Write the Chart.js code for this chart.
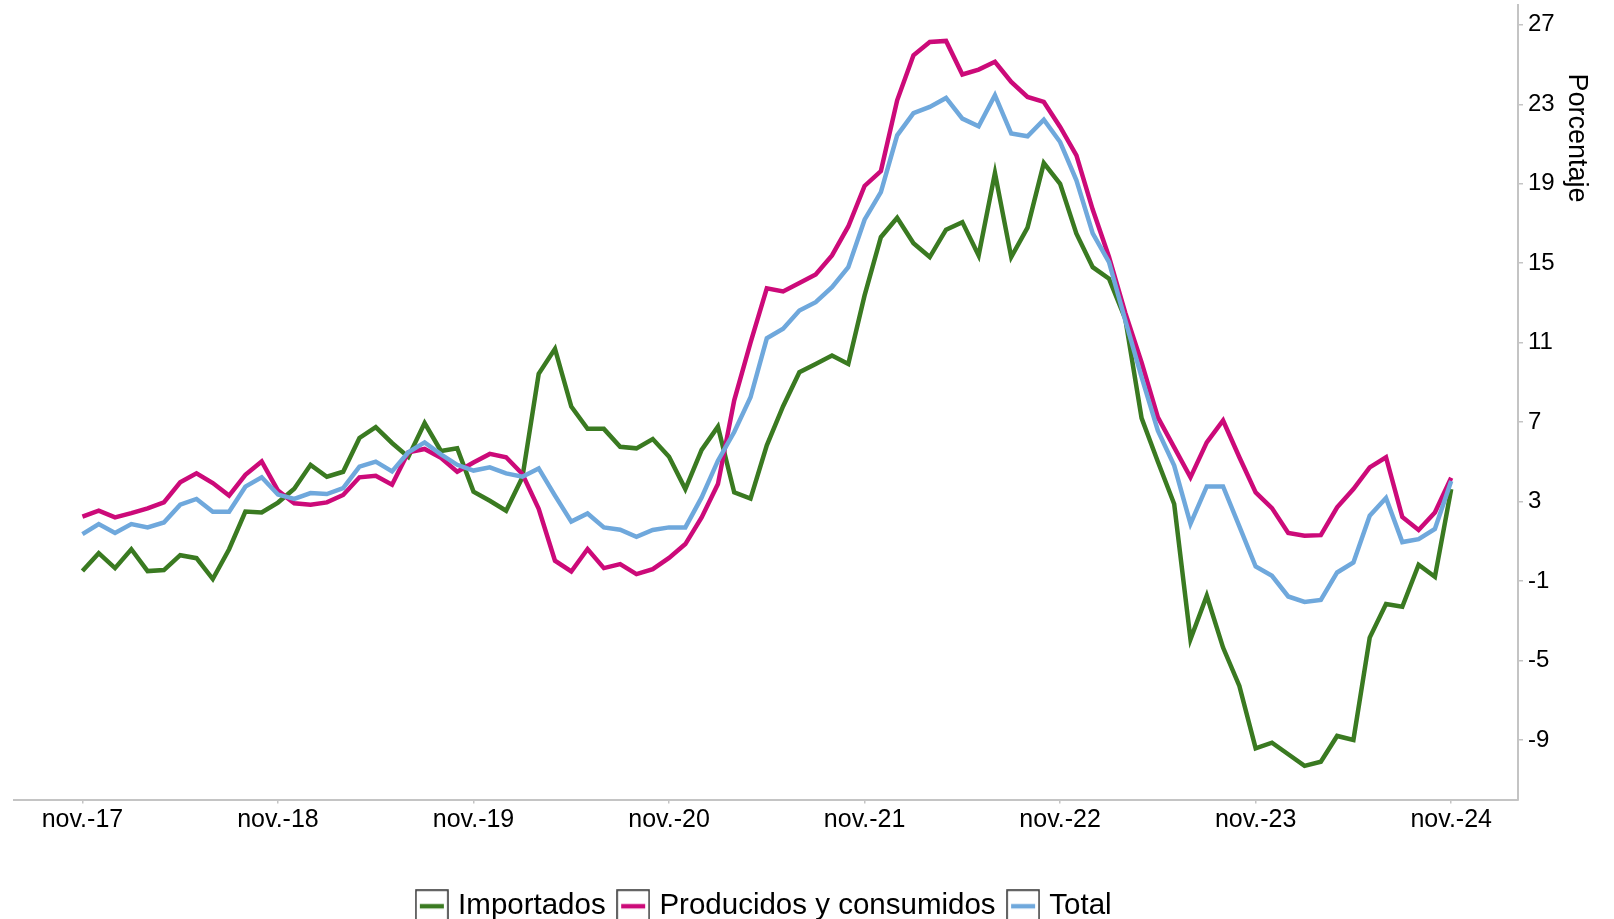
<!DOCTYPE html>
<html>
<head>
<meta charset="utf-8">
<script src="https://cdn.jsdelivr.net/npm/chart.js@4.4.1/dist/chart.umd.min.js"></script>
<style>
  html, body { margin: 0; padding: 0; background: #ffffff; overflow: hidden; }
  #wrap { position: relative; width: 1614px; height: 931px; }
</style>
</head>
<body>
<div id="wrap"><canvas id="c"></canvas></div>
<script>
// ---- data ----
const monthNames = ['nov.', 'dic.', 'ene.', 'feb.', 'mar.', 'abr.', 'may.', 'jun.', 'jul.', 'ago.', 'sep.', 'oct.'];
const categories = Array.from({ length: 85 }, (_, i) => {
  const yy = 17 + Math.floor((i + 10) / 12);
  return monthNames[i % 12] + '-' + yy;
});

const tickLabels = ['nov.-17', 'nov.-18', 'nov.-19', 'nov.-20', 'nov.-21', 'nov.-22', 'nov.-23', 'nov.-24'];
const tickPositions = [0, 12, 24, 36, 48, 60, 72, 84];
const yTickValues = [-9, -5, -1, 3, 7, 11, 15, 19, 23, 27];

const seriesNames = ['Importados', 'Producidos y consumidos', 'Total'];
const yTitle = 'Porcentaje';

const importados = [
  -0.5, 0.4, -0.35, 0.6, -0.5, -0.45, 0.3, 0.15, -0.9, 0.6,
  2.5, 2.45, 2.95, 3.65, 4.85, 4.25, 4.5, 6.2, 6.75, 5.95,
  5.25, 6.95, 5.55, 5.68, 3.5, 3.04, 2.54, 4.22, 9.43, 10.69,
  7.78, 6.66, 6.66, 5.76, 5.68, 6.15, 5.26, 3.63, 5.6, 6.77,
  3.46, 3.15, 5.83, 7.8, 9.51, 9.93, 10.35, 9.93, 13.38, 16.31,
  17.29, 16.01, 15.31, 16.69, 17.07, 15.39, 19.54, 15.31, 16.79, 20.04,
  19.0, 16.49, 14.8, 14.22, 12.2, 7.2, 5.0, 2.88, -3.93, -1.74,
  -4.35, -6.28, -9.42, -9.14, -9.72, -10.31, -10.1, -8.8, -9.0, -3.85,
  -2.16, -2.3, -0.18, -0.79, 3.63
];
const producidos = [
  2.24, 2.54, 2.2, 2.42, 2.66, 2.96, 3.97, 4.42, 3.93, 3.3,
  4.35, 5.02, 3.55, 2.91, 2.84, 2.96, 3.33, 4.22, 4.3, 3.85,
  5.48, 5.65, 5.2, 4.5, 4.97, 5.4, 5.23, 4.39, 2.63, 0.02,
  -0.52, 0.61, -0.35, -0.15, -0.65, -0.4, 0.16, 0.86, 2.2, 3.88,
  8.1, 11.0, 13.74, 13.58, 14.0, 14.43, 15.39, 16.85, 18.89, 19.64,
  23.2, 25.47, 26.14, 26.19, 24.5, 24.75, 25.14, 24.13, 23.37, 23.12,
  21.86, 20.43, 17.7, 15.31, 12.5, 10.0, 7.24, 5.73, 4.22, 5.98,
  7.08, 5.23, 3.46, 2.67, 1.42, 1.28, 1.31, 2.71, 3.63, 4.72,
  5.23, 2.22, 1.57, 2.45, 4.2
];
const total = [
  1.36, 1.87, 1.42, 1.87, 1.7, 1.95, 2.84, 3.13, 2.49, 2.49,
  3.75, 4.22, 3.35, 3.13, 3.43, 3.38, 3.68, 4.76, 5.01, 4.52,
  5.48, 5.98, 5.38, 4.85, 4.56, 4.72, 4.42, 4.25, 4.67, 3.3,
  1.99, 2.4, 1.7, 1.58, 1.23, 1.57, 1.7, 1.7, 3.21, 5.06,
  6.5, 8.25, 11.22, 11.7, 12.62, 13.04, 13.79, 14.8, 17.19, 18.58,
  21.44, 22.56, 22.87, 23.32, 22.28, 21.89, 23.46, 21.53, 21.39, 22.23,
  21.1, 19.17, 16.5, 15.06, 12.12, 9.26, 6.57, 4.81, 1.88, 3.76,
  3.76, 1.75, -0.27, -0.74, -1.78, -2.05, -1.95, -0.57, -0.07, 2.29,
  3.18, 0.96, 1.11, 1.62, 4.04
];

// ---- styling ----
const FONT = '"Liberation Sans", Arial, Helvetica, sans-serif';
const colors = ['#3a7a21', '#cc0a79', '#6fa8dc'];
const axisColor = '#c4c4c4';

function legendIcon(color) {
  const c = document.createElement('canvas');
  c.width = 34; c.height = 34;
  const g = c.getContext('2d');
  g.fillStyle = '#ffffff';
  g.fillRect(1, 1, 32, 32);
  g.strokeStyle = '#333333';
  g.lineWidth = 1.5;
  g.strokeRect(1, 1, 32, 32);
  g.strokeStyle = color;
  g.lineWidth = 4.5;
  g.beginPath(); g.moveTo(5, 17); g.lineTo(29, 17); g.stroke();
  return c;
}
const icons = colors.map(legendIcon);

const toPoints = arr => arr.map((v, i) => ({ x: i, y: v }));
const seriesData = [importados, producidos, total];

const datasets = seriesNames.map((name, k) => ({
  label: name,
  data: toPoints(seriesData[k]),
  borderColor: colors[k],
  backgroundColor: colors[k],
  borderWidth: 4.5,
  pointRadius: 0,
  pointHoverRadius: 0,
  tension: 0,
  fill: false,
  order: 2 - k
}));

const yTitlePlugin = {
  id: 'yTitle',
  afterDraw(chart) {
    const { ctx } = chart;
    const s = chart.scales.y;
    ctx.save();
    ctx.translate(s.right - 38, chart.chartArea.top + 133);
    ctx.rotate(Math.PI / 2);
    ctx.font = '27px ' + FONT;
    ctx.fillStyle = '#000000';
    ctx.textAlign = 'center';
    ctx.textBaseline = 'middle';
    ctx.fillText(yTitle, 0, 0);
    ctx.restore();
  }
};

const defaultGen = Chart.defaults.plugins.legend.labels.generateLabels;

new Chart(document.getElementById('c'), {
  type: 'line',
  data: { labels: categories, datasets },
  plugins: [yTitlePlugin],
  options: {
    responsive: true,
    maintainAspectRatio: false,
    animation: false,
    devicePixelRatio: 1,
    layout: { padding: { left: 14, top: 5, right: 0, bottom: 0 } },
    plugins: {
      tooltip: { enabled: false },
      legend: {
        position: 'bottom',
        fullSize: false,
        labels: {
          usePointStyle: true,
          pointStyleWidth: 23,
          padding: 16,
          color: '#000000',
          font: { family: FONT, size: 29.5 },
          generateLabels(chart) {
            const items = defaultGen(chart);
            items.forEach(it => { it.pointStyle = icons[it.datasetIndex]; });
            return items;
          },
          sort: (a, b) => a.datasetIndex - b.datasetIndex
        }
      }
    },
    scales: {
      x: {
        type: 'linear',
        min: -4.2,
        max: 88.1,
        afterBuildTicks: s => { s.ticks = tickPositions.map(v => ({ value: v })); },
        afterFit: s => { s.height = 76; s.paddingLeft = 0; s.paddingRight = 0; },
        ticks: {
          callback: v => tickLabels[tickPositions.indexOf(v)],
          color: '#000000',
          font: { family: FONT, size: 25 },
          padding: 2,
          maxRotation: 0,
          autoSkip: false
        },
        grid: { drawOnChartArea: false, drawTicks: true, tickLength: 4, color: axisColor, lineWidth: 1.5 },
        border: { display: true, color: axisColor, width: 2 }
      },
      y: {
        type: 'linear',
        position: 'right',
        min: -12,
        max: 28,
        afterBuildTicks: s => { s.ticks = yTickValues.map(v => ({ value: v })); },
        afterFit: s => { s.width = 96; s.paddingTop = 0; s.paddingBottom = 0; },
        ticks: {
          callback: v => String(v),
          color: '#000000',
          font: { family: FONT, size: 24 },
          padding: 5
        },
        grid: { drawOnChartArea: false, drawTicks: true, tickLength: 5, color: axisColor, lineWidth: 1.5 },
        border: { display: true, color: axisColor, width: 2 }
      }
    }
  }
});
</script>
</body>
</html>
